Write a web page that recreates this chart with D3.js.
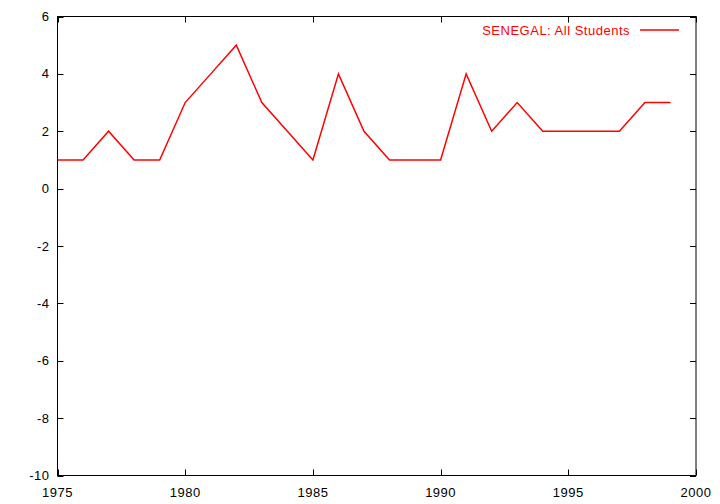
<!DOCTYPE html>
<html><head><meta charset="utf-8">
<script src="https://cdn.jsdelivr.net/npm/d3@7"></script>
<style>body{margin:0;background:#fff}svg{display:block}text{font-family:"Liberation Sans",Arial,sans-serif;font-size:13px;letter-spacing:0.5px}</style>
</head><body>
<script>
const years = [1975,1976,1977,1978,1979,1980,1981,1982,1983,1984,1985,1986,1987,1988,1989,1990,1991,1992,1993,1994,1995,1996,1997,1998,1999];
const values = [1,1,2,1,1,3,4,5,3,2,1,4,2,1,1,1,4,2,3,2,2,2,2,3,3];
const xTicks = [1975,1980,1985,1990,1995,2000];
const yTicks = [-10,-8,-6,-4,-2,0,2,4,6];
const seriesLabel = "SENEGAL: All Students";

const W=720,H=504, L=57.5, R=696, T=16.5, B=475.5;
const svg=d3.select("body").append("svg").attr("width",W).attr("height",H);
const x=d3.scaleLinear().domain([1975,2000]).range([L,R]);
const y=d3.scaleLinear().domain([-10,6]).range([B,T]);

const g=svg.append("g");
const tl=6;
xTicks.forEach(v=>{
  const px=Math.round(x(v))+0.5;
  g.append("line").attr("x1",px).attr("x2",px).attr("y1",B).attr("y2",B-tl).attr("stroke","#000");
  g.append("line").attr("x1",px).attr("x2",px).attr("y1",T).attr("y2",T+tl).attr("stroke","#000");
  g.append("text").attr("x",x(v)).attr("y",B+21.5).attr("text-anchor","middle").text(v);
});
yTicks.forEach(v=>{
  const py=Math.round(y(v))+0.5;
  g.append("line").attr("x1",L).attr("x2",L+tl).attr("y1",py).attr("y2",py).attr("stroke","#000");
  g.append("line").attr("x1",R).attr("x2",R-tl).attr("y1",py).attr("y2",py).attr("stroke","#000");
  g.append("text").attr("x",L-8).attr("y",y(v)+4.5).attr("text-anchor","end").text(v);
});
g.append("rect").attr("x",L).attr("y",T).attr("width",R-L).attr("height",B-T).attr("fill","none").attr("stroke","#000");

const line=d3.line().x((d,i)=>x(years[i])).y(d=>y(d));
svg.append("path").datum(values).attr("d",line).attr("fill","none").attr("stroke","#ff0000").attr("stroke-width",1.5);

svg.append("text").attr("x",630).attr("y",35).attr("text-anchor","end").attr("fill","#ff0000").text(seriesLabel);
svg.append("line").attr("x1",640).attr("x2",679).attr("y1",30).attr("y2",30).attr("stroke","#ff0000").attr("stroke-width",1.5);
</script>
</body></html>
